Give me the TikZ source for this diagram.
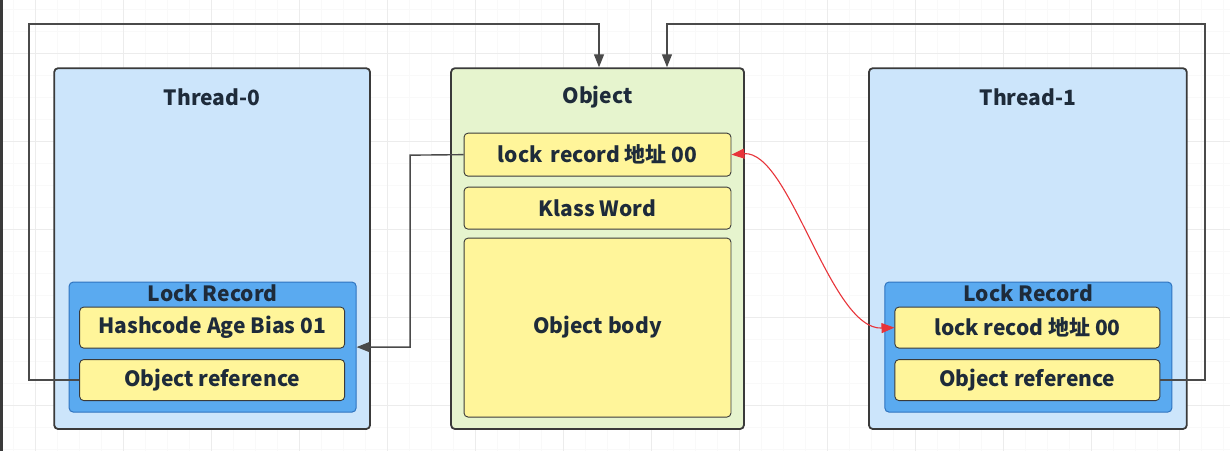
\documentclass[tikz,border=0pt]{standalone}
\usepackage{fontspec}
\setmainfont{Noto Sans CJK SC}
\usetikzlibrary{arrows.meta,positioning}
\definecolor{threadfill}{HTML}{CCE5FB}
\definecolor{objfill}{HTML}{E6F4CE}
\definecolor{recfill}{HTML}{5AAAF0}
\definecolor{recline}{HTML}{2F74C0}
\definecolor{slotfill}{HTML}{FFF59A}
\definecolor{boxline}{HTML}{3A3A3A}
\definecolor{titletext}{HTML}{1E2B3A}
\definecolor{wire}{HTML}{4A4A4A}
\definecolor{redwire}{HTML}{E8343A}

\begin{document}
\begin{tikzpicture}[x=1pt,y=-1pt,
  thread/.style={draw=boxline,fill=threadfill,line width=1.8pt,rounded corners=4pt,minimum width=316pt,minimum height=361pt,inner sep=0pt},
  record/.style={draw=recline,fill=recfill,line width=1pt,rounded corners=4pt,minimum width=287pt,minimum height=130pt,inner sep=0pt},
  slot/.style={draw=boxline,fill=slotfill,line width=0.9pt,rounded corners=4pt,minimum width=265pt,minimum height=41pt,inner sep=0pt,font=\fontsize{21}{24}\selectfont\bfseries,text=titletext},
  title/.style={font=\fontsize{21}{24}\selectfont\bfseries,text=titletext,inner sep=0pt},
  link/.style={draw=wire,line width=1.4pt},
  tip/.style={-{Triangle[length=13pt,width=10pt]}}]

  % background
  \fill[white] (0,0) rectangle (1230,451);
  \foreach \gx in {13,35,...,1230} \draw[gray!5] (\gx,0) -- (\gx,451);
  \foreach \gy in {9,31,...,451} \draw[gray!5] (0,\gy) -- (1230,\gy);
  \foreach \gx in {35,123,...,1230} \draw[gray!15] (\gx,0) -- (\gx,451);
  \foreach \gy in {53,141,...,451} \draw[gray!15] (0,\gy) -- (1230,\gy);
  \fill[boxline] (0,0) rectangle (3,451);

  % Thread-0
  \node[thread] (t0) at (212,248.5) {};
  \node[title] at (212,97) {Thread-0};
  \node[record] (lr0) at (212.5,347) {};
  \node[title] at (212.5,293) {Lock Record};
  \node[slot] (hash0) at (212,327.5) {Hashcode Age Bias 01};
  \node[slot] (ref0) at (212,380) {Object reference};

  % Object
  \node[thread,fill=objfill,minimum width=293pt] (obj) at (597.5,248.5) {};
  \node[title] at (597.5,97) {Object};
  \node[slot,minimum width=267pt,minimum height=43pt] (lockw) at (597.5,154.5) {lock\, record 地址 00};
  \node[slot,minimum width=267pt,minimum height=42pt] (klass) at (597.5,208) {Klass Word};
  \node[slot,minimum width=267pt,minimum height=179pt] (body) at (597.5,327.5) {Object body};

  % Thread-1
  \node[thread,minimum width=318pt] (t1) at (1028,248.5) {};
  \node[title] at (1028,97) {Thread-1};
  \node[record] (lr1) at (1028.5,347) {};
  \node[title] at (1028.5,293) {Lock Record};
  \node[slot] (lrec1) at (1027.5,327.5) {lock recod 地址 00};
  \node[slot] (ref1) at (1027.5,380) {Object reference};

  % Connections
  \coordinate (c0) at (29,24);
  \coordinate (c1) at (1205,24);
  \coordinate (c2) at (410,155);
  \draw[link,tip] (ref0.west) -| (c0) -| ([xshift=1.5pt]obj.north);
  \draw[link,tip] (ref1.east) -| (c1) -| ([xshift=69.5pt]obj.north);
  \draw[link,tip] (lockw.west) -- (c2) |- (lr0.east);
  \draw[draw=redwire,line width=1.1pt,{Triangle[length=13pt,width=10pt]}-{Triangle[length=13pt,width=10pt]}]
    (lockw.east) .. controls (790,150) and (830,330) .. (lrec1.west);
\end{tikzpicture}
\end{document}
